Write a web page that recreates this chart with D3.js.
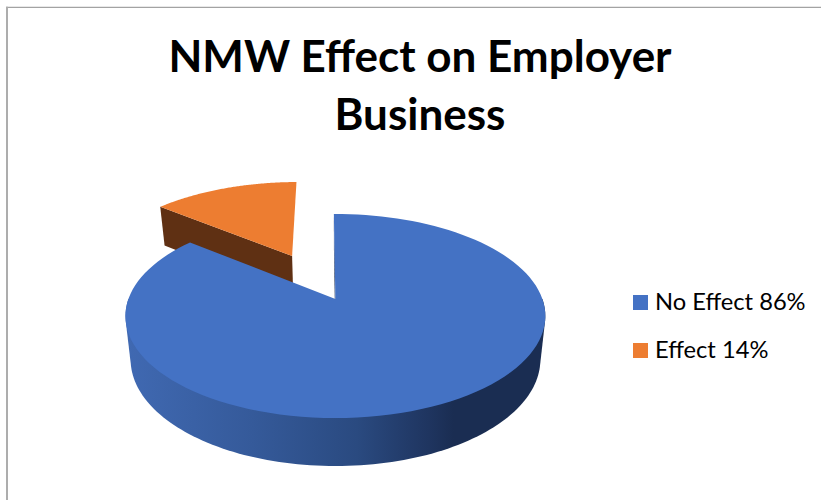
<!DOCTYPE html>
<html>
<head>
<meta charset="utf-8">
<script src="https://cdnjs.cloudflare.com/ajax/libs/d3/7.8.5/d3.min.js"></script>
<style>
html, body { margin: 0; padding: 0; background: #fff; }
svg { display: block; }
text { font-family: Lato, "Open Sans", sans-serif; fill: #000; }
</style>
</head>
<body>
<svg id="chart" width="821" height="500"></svg>
<script>
// Chart content
const titleLines = ["NMW Effect on Employer", "Business"];
const categories = ["No Effect", "Effect"];
const shares = [86, 14];
const faceColors = ["#4472c4", "#ed7d31"];
const orangeWall = "#5f3013";

// Stops for the shaded outer wall of the large slice
const wallStopOffsets = [0, 0.3, 0.55, 0.72, 0.78, 1];
const wallStopColors = ["#4069b2", "#355a9a", "#2a4a80", "#1f3560", "#1a2d52", "#1a2d52"];

// Perspective planes for the pie's top and bottom discs
const topPlane = { x0: 335.4, y0: 299, rx: 207, ry: 99.2, persp: 0.167 };
const basePlane = { x0: 335.5, y0: 341.7, rx: 202, ry: 103.6, persp: 0.167 };
const explode = 0.26;
const rotation = -0.5 * Math.PI / 180;

const svg = d3.select("#chart");

// Frame along the top and left of the chart area
svg.append("line").attr("x1", 6).attr("x2", 821).attr("y1", 7.4).attr("y2", 7.4)
  .attr("stroke", "#a3a3a3").attr("stroke-width", 1.4);
svg.append("line").attr("x1", 7).attr("x2", 7).attr("y1", 6.7).attr("y2", 500)
  .attr("stroke", "#adadad").attr("stroke-width", 2);

const arcs = d3.pie().sort(null).startAngle(rotation).endAngle(2 * Math.PI + rotation)(shares);

// Offset of a slice's apex on the disc, along its bisector
function offset(d) {
  const mid = (d.startAngle + d.endAngle) / 2;
  return [explode * Math.sin(mid), -explode * Math.cos(mid)];
}
const origin = offset(arcs[0]);

// Disc coordinates to screen, keeping the large slice's apex at the plane origin
function project(plane, u, v) {
  const du = u - origin[0], dv = v - origin[1];
  const w = 1 - plane.persp * dv;
  return [plane.x0 + plane.rx * du / w, plane.y0 + plane.ry * dv / w];
}

function rimPoint(plane, d, a) {
  const [ox, oy] = offset(d);
  return project(plane, ox + Math.sin(a), oy - Math.cos(a));
}
function rimPoints(plane, d) {
  return d3.range(0, 121).map(i =>
    rimPoint(plane, d, d.startAngle + (d.endAngle - d.startAngle) * i / 120));
}
const apex = (plane, d) => { const [ox, oy] = offset(d); return project(plane, ox, oy); };
const outline = d3.line().curve(d3.curveLinear);

const x = d3.scaleLinear().domain([0, 1]).range([126, 546]);
const grad = svg.append("defs").append("linearGradient")
  .attr("id", "wallShade").attr("gradientUnits", "userSpaceOnUse")
  .attr("x1", x(0)).attr("x2", x(1)).attr("y1", 0).attr("y2", 0);
grad.selectAll("stop").data(wallStopOffsets).join("stop")
  .attr("offset", d => d)
  .attr("stop-color", (d, i) => wallStopColors[i]);

// Straight cut wall running from the apex to the slice's rim
function drawCutWall(g, d, fill) {
  g.append("path")
    .attr("d", outline([apex(topPlane, d), rimPoint(topPlane, d, d.startAngle),
                        rimPoint(basePlane, d, d.startAngle), apex(basePlane, d)]) + "Z")
    .attr("fill", fill);
}
function drawFace(g, d) {
  g.append("path")
    .attr("d", outline([apex(topPlane, d), ...rimPoints(topPlane, d)]) + "Z")
    .attr("fill", faceColors[d.index]);
}
// Outer wall: silhouette of the front half of the top and bottom rims
function drawOuterWall(g, d, fill) {
  const sweep = plane => d3.range(0, 121).map(i =>
    rimPoint(plane, d, Math.PI / 2 + Math.PI * i / 120));
  const hull = d3.polygonHull(sweep(topPlane).concat(sweep(basePlane)));
  g.append("path").attr("d", outline(hull) + "Z").attr("fill", fill);
}

// Draw back to front: the small slice first, then the large one over it
const small = svg.append("g");
drawCutWall(small, arcs[1], orangeWall);
drawFace(small, arcs[1]);
const large = svg.append("g");
drawCutWall(large, arcs[0], "#1a2d52");
drawOuterWall(large, arcs[0], "url(#wallShade)");
drawFace(large, arcs[0]);

// Title
svg.append("g").selectAll("text").data(titleLines).join("text")
  .attr("x", 420)
  .attr("y", (d, i) => 72 + i * 58)
  .attr("text-anchor", "middle")
  .attr("font-size", 44)
  .attr("font-weight", 700)
  .text(d => d);

// Legend
const legendY = d3.scalePoint().domain(categories).range([310, 358]);
const legend = svg.append("g").selectAll("g").data(categories).join("g")
  .attr("transform", d => `translate(633,${legendY(d)})`);
legend.append("rect").attr("y", -15).attr("width", 15).attr("height", 15)
  .attr("fill", (d, i) => faceColors[i]);
legend.append("text").attr("x", 22).attr("font-size", 23.7)
  .text((d, i) => `${d} ${shares[i]}%`);
</script>
</body>
</html>
